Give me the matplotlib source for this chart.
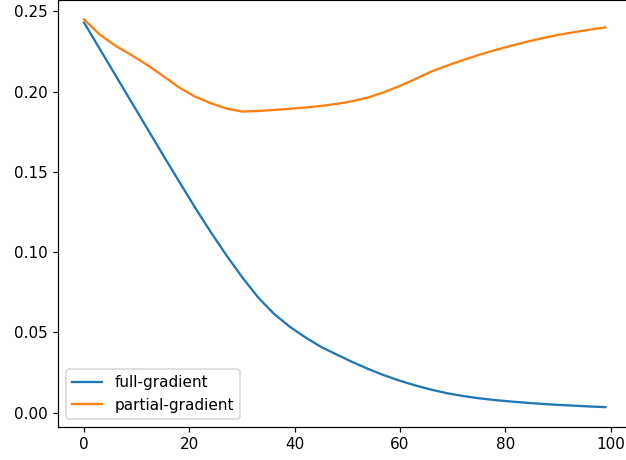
import numpy
from matplotlib import pyplot as plt

# iteration index
steps = [0, 3, 6, 9, 12, 15, 18, 21, 24, 27, 30, 33, 36, 39, 42, 45, 48,
         51, 54, 57, 60, 63, 66, 69, 72, 75, 78, 81, 84, 87, 90, 93, 96, 99]

full_gradient = [0.243, 0.2265, 0.2100, 0.1935, 0.1770, 0.1605, 0.1443,
                 0.1282, 0.1128, 0.0982, 0.0845, 0.0720, 0.0618, 0.0537,
                 0.0470, 0.0410, 0.0362, 0.0315, 0.0272, 0.0233, 0.0199,
                 0.0169, 0.0143, 0.0121, 0.0104, 0.0090, 0.0079, 0.0070,
                 0.0062, 0.0055, 0.0049, 0.0044, 0.0039, 0.0035]

partial_gradient = [0.245, 0.2355, 0.2285, 0.2228, 0.2166, 0.2098, 0.2027,
                    0.1970, 0.1929, 0.1895, 0.1876, 0.1879, 0.1886, 0.1893,
                    0.1901, 0.1911, 0.1924, 0.1941, 0.1964, 0.1997, 0.2036,
                    0.2080, 0.2126, 0.2163, 0.2197, 0.2229, 0.2258, 0.2285,
                    0.2310, 0.2333, 0.2353, 0.2370, 0.2386, 0.2400]

DPI = 110


def plot_losses():
    fig = plt.figure(figsize=(626/DPI, 460/DPI), dpi=DPI)
    # the reference is a crop: right spine sits on the picture's edge
    ax = fig.add_axes([58/626, 33.5/460, 573.5/626, 426.5/460])

    ax.plot(steps, full_gradient, label='full-gradient')
    ax.plot(steps, partial_gradient, label='partial-gradient')
    ax.set_xticks([0, 20, 40, 60, 80, 100])
    ax.set_yticks(numpy.arange(0, 0.26, 0.05))
    ax.legend(loc='lower left')

    return fig


if __name__ == '__main__':
    fig = plot_losses()
    fig.savefig('out.png', dpi=DPI)
